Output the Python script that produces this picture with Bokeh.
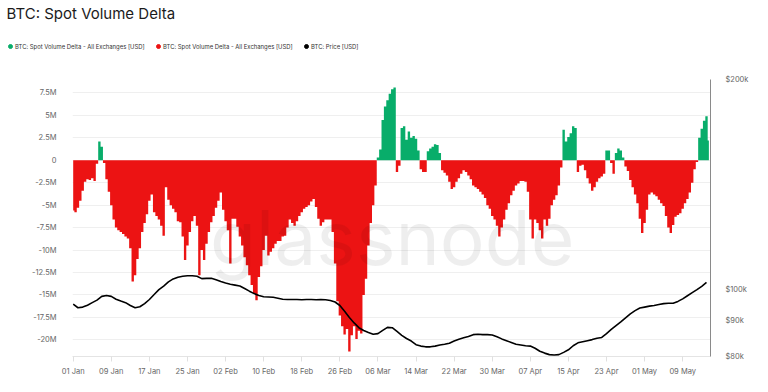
import datetime as dt
from bokeh.plotting import figure
from bokeh.layouts import column
from bokeh.models import (Range1d, LogScale, LogAxis, FixedTicker, DatetimeTickFormatter,
                          Legend, LegendItem, Label, ColumnDataSource)
from bokeh.embed import file_html
from bokeh.resources import INLINE

# ---------------- data ----------------
START = dt.datetime(2025, 1, 1)

# Spot volume delta, million USD, one value every 12 hours from 01 Jan 2025
delta_musd = [
    -5.6, -5.8, -5.3, -4.5, -3.4, -2.4, -2.1, -2.2, -2.0, -2.3,
    -0.4, 2.1, 1.5, -0.3, -2.1, -3.5, -5.0, -6.6, -7.5, -7.8,
    -8.0, -8.2, -8.5, -8.7, -9.8, -13.5, -12.8, -11.0, -9.8, -8.0,
    -7.0, -6.0, -4.5, -3.8, -5.8, -6.2, -6.6, -7.3, -8.4, -3.0,
    -4.4, -5.0, -5.4, -5.8, -6.8, -6.9, -8.5, -11.1, -9.5, -8.0,
    -6.8, -6.2, -7.3, -12.8, -10.0, -11.1, -9.3, -8.0, -6.9, -6.2,
    -5.3, -4.5, -3.6, -5.5, -6.8, -7.8, -11.5, -6.5, -6.5, -7.4,
    -8.5, -9.5, -10.8, -11.7, -12.8, -13.9, -14.8, -15.6, -13.0, -11.8,
    -10.0, -8.4, -10.6, -10.2, -9.8, -9.3, -9.0, -9.0, -8.5, -8.4,
    -7.5, -6.6, -7.0, -7.3, -6.8, -6.2, -5.8, -5.4, -5.2, -5.0,
    -4.6, -4.3, -5.2, -6.5, -7.3, -6.9, -6.6, -6.6, -6.6, -8.0,
    -11.5, -15.7, -17.3, -18.5, -19.4, -18.8, -21.3, -19.5, -18.5, -19.9,
    -19.0, -19.3, -15.0, -13.2, -9.5, -7.0, -5.0, -2.8, 0.3, 1.2,
    4.5, 6.0, 6.7, 7.4, 7.9, 8.1, -1.3, -0.6, 3.6, 3.8,
    2.3, 3.2, 2.5, 2.7, 2.4, 1.1, -1.0, -1.3, -1.3, 1.0,
    1.3, 1.5, 1.8, 1.7, 0.8, -1.1, -1.4, -1.7, -2.4, -3.2,
    -3.0, -2.4, -2.0, -1.5, -1.1, -1.3, -1.7, -2.1, -2.8, -3.0,
    -3.2, -3.5, -3.8, -4.2, -5.0, -5.4, -6.2, -6.6, -7.3, -8.5,
    -7.5, -6.6, -5.5, -4.8, -3.9, -3.4, -2.8, -2.6, -2.3, -2.3,
    -2.4, -3.5, -6.6, -8.7, -6.6, -7.0, -7.8, -8.7, -6.6, -7.3,
    -6.5, -5.0, -4.4, -3.9, -2.8, -0.8, 3.4, 2.1, 2.6, 3.0,
    3.8, 3.6, -1.3, -0.6, -0.5, -1.1, -2.0, -2.6, -3.4, -3.0,
    -2.4, -2.0, -1.8, -1.5, 1.1, 1.1, -0.3, -1.5, 0.8, 1.3,
    1.1, 0.3, -0.7, -1.2, -2.2, -3.0, -3.8, -4.8, -6.5, -8.1,
    -7.0, -5.5, -3.8, -3.6, -3.8, -4.0, -4.4, -4.8, -5.1, -6.2,
    -7.5, -8.1, -7.2, -6.3, -6.1, -5.9, -5.4, -4.8, -4.3, -3.6,
    -2.5, -1.0, -0.2, 2.5, 3.5, 4.4, 4.9, 2.2,
]

# BTC price, thousand USD, daily from 01 Jan 2025
price_kusd = [
    95.1, 94.0, 94.2, 94.8, 95.6, 96.4, 97.6, 97.9, 97.6, 96.7,
    96.1, 95.6, 94.7, 94.0, 94.3, 95.3, 96.6, 98.2, 99.8, 101.0,
    102.4, 103.4, 104.0, 104.3, 104.5, 104.5, 104.3, 103.5, 103.6, 103.6,
    103.1, 102.5, 102.0, 101.6, 101.3, 101.0, 100.2, 99.3, 98.5, 97.9,
    97.5, 97.4, 97.3, 97.0, 96.7, 96.6, 96.6, 96.6, 96.5, 96.6,
    96.6, 96.5, 96.6, 96.5, 96.3, 95.8, 94.7, 92.9, 91.0, 89.4,
    88.0, 87.2, 86.6, 86.1, 86.3, 87.2, 88.1, 88.0, 86.9, 85.8,
    84.9, 84.2, 83.2, 82.8, 82.6, 82.6, 82.8, 83.1, 83.3, 83.6,
    84.2, 84.7, 85.1, 85.5, 86.0, 86.1, 86.0, 86.0, 85.9, 85.4,
    84.8, 84.3, 83.8, 83.3, 83.1, 82.9, 82.8, 82.2, 81.4, 80.9,
    80.5, 80.4, 80.5, 81.1, 81.8, 82.9, 83.7, 84.0, 84.3, 84.6,
    85.0, 85.2, 86.3, 87.5, 88.6, 89.7, 90.9, 92.1, 93.1, 93.9,
    94.2, 94.5, 94.7, 95.0, 95.3, 95.4, 95.4, 96.0, 96.8, 97.8,
    98.8, 99.8, 100.9, 102.2,
]

x_tick_dates = ["2025-01-01", "2025-01-09", "2025-01-17", "2025-01-25", "2025-02-02",
                "2025-02-10", "2025-02-18", "2025-02-26", "2025-03-06", "2025-03-14",
                "2025-03-22", "2025-03-30", "2025-04-07", "2025-04-15", "2025-04-23",
                "2025-05-01", "2025-05-09"]
left_ticks_m = [7.5, 5, 2.5, 0, -2.5, -5, -7.5, -10, -12.5, -15, -17.5, -20]
left_tick_labels = ["7.5M", "5M", "2.5M", "0", "-2.5M", "-5M", "-7.5M", "-10M",
                    "-12.5M", "-15M", "-17.5M", "-20M"]
right_ticks = [80000, 90000, 100000, 200000]
right_tick_labels = ["$80k", "$90k", "$100k", "$200k"]

chart_title = "BTC: Spot Volume Delta"
legend_labels = ["BTC: Spot Volume Delta - All Exchanges [USD]",
                 "BTC: Spot Volume Delta - All Exchanges [USD]",
                 "BTC: Price [USD]"]

# ---------------- styling ----------------
GREEN = "#08ad6a"
RED = "#ec1313"
FONT = "Inter"
LABEL_COLOR = "#666666"
W = 760
HEAD_H = 72

# ---------------- header: title + legend ----------------
head = figure(width=W, height=HEAD_H, output_backend="svg", toolbar_location=None,
              x_range=Range1d(0, W), y_range=Range1d(HEAD_H, 0),
              x_axis_location=None, y_axis_location=None,
              min_border=0, min_border_left=0, min_border_right=0,
              min_border_top=0, min_border_bottom=0)
head.title = None
head.frame_align = False
head.outline_line_color = None
head.xgrid.visible = False
head.ygrid.visible = False

head.add_layout(Label(x=6, y=13, text=chart_title, text_baseline="middle",
                      text_align="left", text_font=FONT, text_font_size="15px",
                      text_color="#1b1b1b"))

legend_colors = [GREEN, RED, "#000000"]
items = []
for lab, col in zip(legend_labels, legend_colors):
    # legend swatch renderer: its single point lies outside the visible header range
    r = head.scatter(x=[-100], y=[-100], size=5, color=col)
    items.append(LegendItem(label=lab, renderers=[r]))
lg = Legend(items=items, location=(5, 20), orientation="horizontal",
            margin=0, padding=0, spacing=0,
            glyph_width=10, glyph_height=12, label_standoff=0,
            label_width=138, label_height=12,
            label_text_font=FONT, label_text_font_size="5.9px",
            label_text_color="#333333",
            background_fill_alpha=0, border_line_color=None)
head.add_layout(lg)

# ---------------- main chart ----------------
delta_t = [START + dt.timedelta(hours=12 * i) for i in range(len(delta_musd))]
delta_neg = [min(v, 0) * 1e6 for v in delta_musd]
delta_pos = [max(v, 0) * 1e6 for v in delta_musd]
price_t = [START + dt.timedelta(days=i) for i in range(len(price_kusd))]
price_v = [v * 1000 for v in price_kusd]

p_main = figure(width=W, height=316, x_axis_type="datetime",
                output_backend="svg", toolbar_location=None,
                x_range=Range1d(START - dt.timedelta(hours=3.5),
                                START + dt.timedelta(days=133.84)),
                y_range=Range1d(-21.86e6, 9.0e6),
                min_border_left=72, min_border_right=50,
                min_border_top=7, min_border_bottom=32)
p_main.title = None
p_main.frame_align = False
p_main.outline_line_color = None

p_main.extra_y_ranges = {"price": Range1d(80000, 200000)}
p_main.extra_y_scales = {"price": LogScale()}

src = ColumnDataSource(dict(t=delta_t, neg=delta_neg, pos=delta_pos))
p_main.varea_step(x="t", y1=0, y2="neg", step_mode="center", source=src, fill_color=RED)
p_main.varea_step(x="t", y1=0, y2="pos", step_mode="center", source=src, fill_color=GREEN)

p_main.line(price_t, price_v, y_range_name="price", line_color="#000000", line_width=1.6)

# watermark
p_main.add_layout(Label(x=START + dt.timedelta(days=67.0), y=-8.6e6, text="glassnode",
                        text_align="center", text_baseline="alphabetic",
                        text_font=FONT, text_font_size="75px",
                        text_color="#000000", text_alpha=0.065))

# left axis
ya = p_main.yaxis[0]
ya.ticker = FixedTicker(ticks=[v * 1e6 for v in left_ticks_m])
ya.major_label_overrides = {v * 1e6: s for v, s in zip(left_ticks_m, left_tick_labels)}
ya.axis_line_color = None
ya.major_tick_line_color = None
ya.minor_tick_line_color = None
ya.major_label_standoff = 10
ya.major_label_text_font = FONT
ya.major_label_text_font_size = "7.5px"
ya.major_label_text_color = LABEL_COLOR

p_main.ygrid.grid_line_color = "#efefef"
p_main.xgrid.grid_line_color = None

# right (price) axis
ra = LogAxis(y_range_name="price", ticker=FixedTicker(ticks=right_ticks))
ra.major_label_overrides = {v: s for v, s in zip(right_ticks, right_tick_labels)}
ra.axis_line_color = "#8a8a8a"
ra.major_tick_line_color = None
ra.minor_tick_line_color = None
ra.major_label_standoff = 9
ra.major_label_text_font = FONT
ra.major_label_text_font_size = "7.5px"
ra.major_label_text_color = LABEL_COLOR
p_main.add_layout(ra, "right")

# bottom axis
xa = p_main.xaxis[0]
tick_ms = [dt.datetime.strptime(d, "%Y-%m-%d").replace(tzinfo=dt.timezone.utc).timestamp() * 1000
           for d in x_tick_dates]
xa.ticker = FixedTicker(ticks=tick_ms)
xa.formatter = DatetimeTickFormatter(hours="%d %b", days="%d %b", months="%d %b", years="%d %b")
xa.axis_line_color = "#e4e4e4"
xa.major_tick_line_color = "#e0e0e0"
xa.major_tick_out = 5
xa.major_tick_in = 0
xa.minor_tick_line_color = None
xa.major_label_standoff = 5
xa.major_label_text_font = FONT
xa.major_label_text_font_size = "7.5px"
xa.major_label_text_color = LABEL_COLOR

p = column(head, p_main, spacing=0)

open("out.html", "w").write(file_html(p, INLINE))
